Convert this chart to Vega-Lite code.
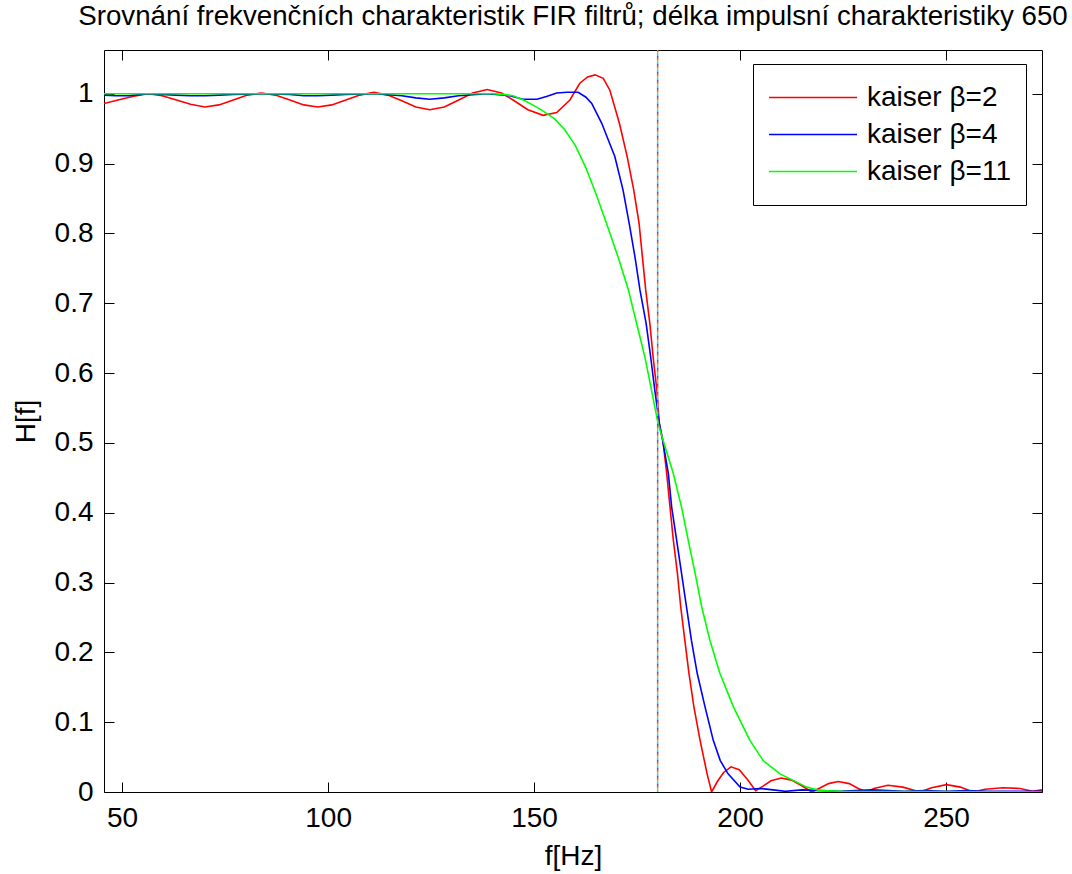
{
  "$schema": "https://vega.github.io/schema/vega-lite/v6.json",
  "width": 938,
  "height": 742,
  "autosize": {"type": "none"},
  "padding": {"left": 104, "top": 50, "right": 30, "bottom": 82},
  "background": "white",
  "title": {
    "text": "Srovnání frekvenčních charakteristik FIR filtrů; délka impulsní charakteristiky 650",
    "font": "Liberation Sans",
    "fontSize": 27.7,
    "fontWeight": "normal",
    "color": "black",
    "anchor": "middle",
    "baseline": "alphabetic",
    "offset": -3
  },
  "config": {
    "view": {"stroke": null},
    "axis": {
      "labelFont": "Liberation Sans",
      "labelFontSize": 28,
      "labelColor": "black",
      "titleFont": "Liberation Sans",
      "titleFontSize": 28,
      "titleFontWeight": "normal",
      "titleColor": "black",
      "domainColor": "black",
      "domainWidth": 1,
      "tickColor": "black",
      "tickWidth": 1,
      "tickSize": -10,
      "grid": false,
      "labelFlush": false,
      "labelOverlap": false
    },
    "legend": {
      "orient": "none",
      "legendX": 649,
      "legendY": 14,
      "title": null,
      "symbolType": "stroke",
      "symbolSize": 7744,
      "symbolStrokeWidth": 1.5,
      "labelFont": "Liberation Sans",
      "labelFontSize": 28,
      "labelColor": "black",
      "strokeColor": "black",
      "fillColor": "white",
      "padding": 15,
      "rowPadding": 0,
      "clipHeight": 37,
      "labelOffset": 9,
      "cornerRadius": 0
    }
  },
  "datasets": {
    "cutoff": [{"f": 180}],
    "curves": [
      {"f": 45.6, "H": 0.986, "series": "kaiser β=2"},
      {"f": 49.0, "H": 0.991, "series": "kaiser β=2"},
      {"f": 52.5, "H": 0.996, "series": "kaiser β=2"},
      {"f": 56.3, "H": 1.000, "series": "kaiser β=2"},
      {"f": 59.7, "H": 0.997, "series": "kaiser β=2"},
      {"f": 63.2, "H": 0.991, "series": "kaiser β=2"},
      {"f": 66.6, "H": 0.985, "series": "kaiser β=2"},
      {"f": 70.1, "H": 0.981, "series": "kaiser β=2"},
      {"f": 73.5, "H": 0.984, "series": "kaiser β=2"},
      {"f": 77.0, "H": 0.991, "series": "kaiser β=2"},
      {"f": 80.4, "H": 0.998, "series": "kaiser β=2"},
      {"f": 83.8, "H": 1.001, "series": "kaiser β=2"},
      {"f": 87.2, "H": 0.998, "series": "kaiser β=2"},
      {"f": 90.7, "H": 0.991, "series": "kaiser β=2"},
      {"f": 94.1, "H": 0.984, "series": "kaiser β=2"},
      {"f": 97.5, "H": 0.981, "series": "kaiser β=2"},
      {"f": 100.9, "H": 0.984, "series": "kaiser β=2"},
      {"f": 104.3, "H": 0.991, "series": "kaiser β=2"},
      {"f": 107.7, "H": 0.998, "series": "kaiser β=2"},
      {"f": 111.1, "H": 1.002, "series": "kaiser β=2"},
      {"f": 114.5, "H": 0.998, "series": "kaiser β=2"},
      {"f": 117.9, "H": 0.990, "series": "kaiser β=2"},
      {"f": 121.3, "H": 0.981, "series": "kaiser β=2"},
      {"f": 124.7, "H": 0.977, "series": "kaiser β=2"},
      {"f": 128.2, "H": 0.981, "series": "kaiser β=2"},
      {"f": 131.7, "H": 0.991, "series": "kaiser β=2"},
      {"f": 135.1, "H": 1.001, "series": "kaiser β=2"},
      {"f": 138.6, "H": 1.006, "series": "kaiser β=2"},
      {"f": 142.1, "H": 1.001, "series": "kaiser β=2"},
      {"f": 144.9, "H": 0.991, "series": "kaiser β=2"},
      {"f": 148.5, "H": 0.977, "series": "kaiser β=2"},
      {"f": 152.2, "H": 0.969, "series": "kaiser β=2"},
      {"f": 155.5, "H": 0.973, "series": "kaiser β=2"},
      {"f": 158.7, "H": 0.991, "series": "kaiser β=2"},
      {"f": 161.1, "H": 1.015, "series": "kaiser β=2"},
      {"f": 163.0, "H": 1.024, "series": "kaiser β=2"},
      {"f": 164.8, "H": 1.027, "series": "kaiser β=2"},
      {"f": 166.8, "H": 1.022, "series": "kaiser β=2"},
      {"f": 168.4, "H": 1.005, "series": "kaiser β=2"},
      {"f": 170.7, "H": 0.958, "series": "kaiser β=2"},
      {"f": 172.6, "H": 0.910, "series": "kaiser β=2"},
      {"f": 174.2, "H": 0.862, "series": "kaiser β=2"},
      {"f": 175.5, "H": 0.814, "series": "kaiser β=2"},
      {"f": 176.3, "H": 0.766, "series": "kaiser β=2"},
      {"f": 177.1, "H": 0.719, "series": "kaiser β=2"},
      {"f": 178.1, "H": 0.671, "series": "kaiser β=2"},
      {"f": 178.9, "H": 0.623, "series": "kaiser β=2"},
      {"f": 179.8, "H": 0.576, "series": "kaiser β=2"},
      {"f": 180.4, "H": 0.528, "series": "kaiser β=2"},
      {"f": 181.3, "H": 0.502, "series": "kaiser β=2"},
      {"f": 182.2, "H": 0.456, "series": "kaiser β=2"},
      {"f": 183.0, "H": 0.408, "series": "kaiser β=2"},
      {"f": 183.8, "H": 0.361, "series": "kaiser β=2"},
      {"f": 184.8, "H": 0.313, "series": "kaiser β=2"},
      {"f": 185.6, "H": 0.265, "series": "kaiser β=2"},
      {"f": 186.6, "H": 0.217, "series": "kaiser β=2"},
      {"f": 187.6, "H": 0.170, "series": "kaiser β=2"},
      {"f": 188.8, "H": 0.122, "series": "kaiser β=2"},
      {"f": 190.3, "H": 0.074, "series": "kaiser β=2"},
      {"f": 192.0, "H": 0.026, "series": "kaiser β=2"},
      {"f": 193.1, "H": 0.000, "series": "kaiser β=2"},
      {"f": 194.5, "H": 0.015, "series": "kaiser β=2"},
      {"f": 196.0, "H": 0.028, "series": "kaiser β=2"},
      {"f": 197.8, "H": 0.036, "series": "kaiser β=2"},
      {"f": 199.8, "H": 0.032, "series": "kaiser β=2"},
      {"f": 201.8, "H": 0.018, "series": "kaiser β=2"},
      {"f": 203.8, "H": 0.002, "series": "kaiser β=2"},
      {"f": 205.5, "H": 0.008, "series": "kaiser β=2"},
      {"f": 207.5, "H": 0.016, "series": "kaiser β=2"},
      {"f": 210.0, "H": 0.020, "series": "kaiser β=2"},
      {"f": 212.5, "H": 0.017, "series": "kaiser β=2"},
      {"f": 215.0, "H": 0.009, "series": "kaiser β=2"},
      {"f": 217.4, "H": 0.000, "series": "kaiser β=2"},
      {"f": 219.5, "H": 0.006, "series": "kaiser β=2"},
      {"f": 221.5, "H": 0.012, "series": "kaiser β=2"},
      {"f": 223.8, "H": 0.015, "series": "kaiser β=2"},
      {"f": 226.5, "H": 0.012, "series": "kaiser β=2"},
      {"f": 228.7, "H": 0.005, "series": "kaiser β=2"},
      {"f": 230.7, "H": 0.000, "series": "kaiser β=2"},
      {"f": 232.5, "H": 0.005, "series": "kaiser β=2"},
      {"f": 235.9, "H": 0.0096, "series": "kaiser β=2"},
      {"f": 239.5, "H": 0.007, "series": "kaiser β=2"},
      {"f": 243.7, "H": 0.000, "series": "kaiser β=2"},
      {"f": 246.5, "H": 0.006, "series": "kaiser β=2"},
      {"f": 250.1, "H": 0.0106, "series": "kaiser β=2"},
      {"f": 253.5, "H": 0.007, "series": "kaiser β=2"},
      {"f": 256.5, "H": 0.000, "series": "kaiser β=2"},
      {"f": 259.5, "H": 0.004, "series": "kaiser β=2"},
      {"f": 263.8, "H": 0.006, "series": "kaiser β=2"},
      {"f": 268.0, "H": 0.005, "series": "kaiser β=2"},
      {"f": 271.0, "H": 0.001, "series": "kaiser β=2"},
      {"f": 273.3, "H": 0.003, "series": "kaiser β=2"},

      {"f": 45.6, "H": 0.998, "series": "kaiser β=4"},
      {"f": 48.5, "H": 0.997, "series": "kaiser β=4"},
      {"f": 51.5, "H": 0.997, "series": "kaiser β=4"},
      {"f": 56.3, "H": 1.000, "series": "kaiser β=4"},
      {"f": 63.0, "H": 0.998, "series": "kaiser β=4"},
      {"f": 66.6, "H": 0.997, "series": "kaiser β=4"},
      {"f": 70.1, "H": 0.997, "series": "kaiser β=4"},
      {"f": 73.5, "H": 0.998, "series": "kaiser β=4"},
      {"f": 77.0, "H": 0.999, "series": "kaiser β=4"},
      {"f": 83.8, "H": 1.000, "series": "kaiser β=4"},
      {"f": 90.7, "H": 0.999, "series": "kaiser β=4"},
      {"f": 94.1, "H": 0.997, "series": "kaiser β=4"},
      {"f": 97.5, "H": 0.997, "series": "kaiser β=4"},
      {"f": 100.9, "H": 0.998, "series": "kaiser β=4"},
      {"f": 104.3, "H": 0.999, "series": "kaiser β=4"},
      {"f": 111.1, "H": 1.000, "series": "kaiser β=4"},
      {"f": 117.9, "H": 0.997, "series": "kaiser β=4"},
      {"f": 121.3, "H": 0.994, "series": "kaiser β=4"},
      {"f": 124.7, "H": 0.992, "series": "kaiser β=4"},
      {"f": 128.2, "H": 0.994, "series": "kaiser β=4"},
      {"f": 131.7, "H": 0.997, "series": "kaiser β=4"},
      {"f": 138.6, "H": 1.000, "series": "kaiser β=4"},
      {"f": 144.1, "H": 0.997, "series": "kaiser β=4"},
      {"f": 147.3, "H": 0.992, "series": "kaiser β=4"},
      {"f": 150.7, "H": 0.992, "series": "kaiser β=4"},
      {"f": 153.0, "H": 0.996, "series": "kaiser β=4"},
      {"f": 155.5, "H": 1.001, "series": "kaiser β=4"},
      {"f": 158.0, "H": 1.002, "series": "kaiser β=4"},
      {"f": 160.7, "H": 1.002, "series": "kaiser β=4"},
      {"f": 162.6, "H": 0.995, "series": "kaiser β=4"},
      {"f": 164.0, "H": 0.986, "series": "kaiser β=4"},
      {"f": 166.4, "H": 0.958, "series": "kaiser β=4"},
      {"f": 169.6, "H": 0.910, "series": "kaiser β=4"},
      {"f": 171.6, "H": 0.862, "series": "kaiser β=4"},
      {"f": 173.1, "H": 0.814, "series": "kaiser β=4"},
      {"f": 174.5, "H": 0.766, "series": "kaiser β=4"},
      {"f": 175.7, "H": 0.719, "series": "kaiser β=4"},
      {"f": 177.2, "H": 0.671, "series": "kaiser β=4"},
      {"f": 178.3, "H": 0.623, "series": "kaiser β=4"},
      {"f": 179.3, "H": 0.576, "series": "kaiser β=4"},
      {"f": 180.4, "H": 0.528, "series": "kaiser β=4"},
      {"f": 181.2, "H": 0.504, "series": "kaiser β=4"},
      {"f": 182.6, "H": 0.456, "series": "kaiser β=4"},
      {"f": 183.4, "H": 0.408, "series": "kaiser β=4"},
      {"f": 184.6, "H": 0.361, "series": "kaiser β=4"},
      {"f": 185.8, "H": 0.313, "series": "kaiser β=4"},
      {"f": 187.0, "H": 0.265, "series": "kaiser β=4"},
      {"f": 188.2, "H": 0.217, "series": "kaiser β=4"},
      {"f": 189.6, "H": 0.170, "series": "kaiser β=4"},
      {"f": 191.5, "H": 0.122, "series": "kaiser β=4"},
      {"f": 193.5, "H": 0.074, "series": "kaiser β=4"},
      {"f": 195.2, "H": 0.045, "series": "kaiser β=4"},
      {"f": 197.1, "H": 0.026, "series": "kaiser β=4"},
      {"f": 200.0, "H": 0.007, "series": "kaiser β=4"},
      {"f": 202.0, "H": 0.004, "series": "kaiser β=4"},
      {"f": 205.0, "H": 0.005, "series": "kaiser β=4"},
      {"f": 208.0, "H": 0.003, "series": "kaiser β=4"},
      {"f": 211.0, "H": 0.001, "series": "kaiser β=4"},
      {"f": 215.0, "H": 0.003, "series": "kaiser β=4"},
      {"f": 220.0, "H": 0.002, "series": "kaiser β=4"},
      {"f": 224.0, "H": 0.001, "series": "kaiser β=4"},
      {"f": 228.0, "H": 0.002, "series": "kaiser β=4"},
      {"f": 232.0, "H": 0.003, "series": "kaiser β=4"},
      {"f": 236.0, "H": 0.002, "series": "kaiser β=4"},
      {"f": 240.0, "H": 0.001, "series": "kaiser β=4"},
      {"f": 245.0, "H": 0.002, "series": "kaiser β=4"},
      {"f": 250.0, "H": 0.001, "series": "kaiser β=4"},
      {"f": 255.0, "H": 0.002, "series": "kaiser β=4"},
      {"f": 260.0, "H": 0.001, "series": "kaiser β=4"},
      {"f": 265.0, "H": 0.001, "series": "kaiser β=4"},
      {"f": 273.3, "H": 0.001, "series": "kaiser β=4"},

      {"f": 45.6, "H": 1.000, "series": "kaiser β=11"},
      {"f": 100.0, "H": 1.000, "series": "kaiser β=11"},
      {"f": 140.0, "H": 1.000, "series": "kaiser β=11"},
      {"f": 142.5, "H": 0.999, "series": "kaiser β=11"},
      {"f": 144.9, "H": 0.997, "series": "kaiser β=11"},
      {"f": 147.4, "H": 0.991, "series": "kaiser β=11"},
      {"f": 150.0, "H": 0.983, "series": "kaiser β=11"},
      {"f": 152.5, "H": 0.974, "series": "kaiser β=11"},
      {"f": 155.0, "H": 0.964, "series": "kaiser β=11"},
      {"f": 157.5, "H": 0.948, "series": "kaiser β=11"},
      {"f": 160.0, "H": 0.926, "series": "kaiser β=11"},
      {"f": 162.5, "H": 0.895, "series": "kaiser β=11"},
      {"f": 165.0, "H": 0.857, "series": "kaiser β=11"},
      {"f": 167.6, "H": 0.814, "series": "kaiser β=11"},
      {"f": 170.4, "H": 0.766, "series": "kaiser β=11"},
      {"f": 172.9, "H": 0.719, "series": "kaiser β=11"},
      {"f": 174.9, "H": 0.671, "series": "kaiser β=11"},
      {"f": 176.9, "H": 0.623, "series": "kaiser β=11"},
      {"f": 178.5, "H": 0.576, "series": "kaiser β=11"},
      {"f": 180.1, "H": 0.528, "series": "kaiser β=11"},
      {"f": 181.3, "H": 0.504, "series": "kaiser β=11"},
      {"f": 183.8, "H": 0.456, "series": "kaiser β=11"},
      {"f": 185.8, "H": 0.408, "series": "kaiser β=11"},
      {"f": 187.4, "H": 0.361, "series": "kaiser β=11"},
      {"f": 189.1, "H": 0.313, "series": "kaiser β=11"},
      {"f": 190.7, "H": 0.265, "series": "kaiser β=11"},
      {"f": 192.7, "H": 0.217, "series": "kaiser β=11"},
      {"f": 195.1, "H": 0.170, "series": "kaiser β=11"},
      {"f": 198.4, "H": 0.122, "series": "kaiser β=11"},
      {"f": 202.4, "H": 0.074, "series": "kaiser β=11"},
      {"f": 205.6, "H": 0.045, "series": "kaiser β=11"},
      {"f": 209.7, "H": 0.026, "series": "kaiser β=11"},
      {"f": 216.2, "H": 0.007, "series": "kaiser β=11"},
      {"f": 219.4, "H": 0.002, "series": "kaiser β=11"},
      {"f": 225.0, "H": 0.001, "series": "kaiser β=11"},
      {"f": 273.3, "H": 0.000, "series": "kaiser β=11"}
    ]
  },
  "resolve": {"axis": {"x": "independent", "y": "independent"}},
  "layer": [
    {
      "data": {"name": "curves"},
      "mark": {"type": "line", "strokeOpacity": 0, "clip": true},
      "encoding": {
        "x": {"field": "f", "type": "quantitative", "scale": {"domain": [45.6, 273.3], "nice": false, "zero": false},
              "axis": {"orient": "top", "labels": false, "title": null, "values": [50, 100, 150, 200, 250]}},
        "y": {"field": "H", "type": "quantitative", "scale": {"domain": [0, 1.0626], "nice": false, "zero": false},
              "axis": {"orient": "right", "labels": false, "title": null, "values": [0, 0.1, 0.2, 0.3, 0.4, 0.5, 0.6, 0.7, 0.8, 0.9, 1]}}
      }
    },
    {
      "data": {"name": "curves"},
      "mark": {"type": "line", "strokeWidth": 1.6, "clip": true, "interpolate": "linear"},
      "encoding": {
        "x": {"field": "f", "type": "quantitative",
              "axis": {"orient": "bottom", "title": "f[Hz]", "values": [50, 100, 150, 200, 250], "labelPadding": 22, "titlePadding": 10}},
        "y": {"field": "H", "type": "quantitative",
              "axis": {"orient": "left", "title": "H[f]", "values": [0, 0.1, 0.2, 0.3, 0.4, 0.5, 0.6, 0.7, 0.8, 0.9, 1], "format": ".1~f", "labelPadding": 21, "titlePadding": 14}},
        "color": {"field": "series", "type": "nominal",
                  "scale": {"domain": ["kaiser β=2", "kaiser β=4", "kaiser β=11"], "range": ["#ff0000", "#0000ff", "#00ff00"]},
                  "legend": {}}
      }
    },
    {
      "data": {"name": "cutoff"},
      "mark": {"type": "rule", "color": "#ff5050", "strokeWidth": 1.5, "strokeDash": [2, 6], "strokeDashOffset": 0},
      "encoding": {"x": {"field": "f", "type": "quantitative", "axis": null}}
    },
    {
      "data": {"name": "cutoff"},
      "mark": {"type": "rule", "color": "#5050ff", "strokeWidth": 1.5, "strokeDash": [2, 6], "strokeDashOffset": 2},
      "encoding": {"x": {"field": "f", "type": "quantitative", "axis": null}}
    },
    {
      "data": {"name": "cutoff"},
      "mark": {"type": "rule", "color": "#40c8c8", "strokeWidth": 1.5, "strokeDash": [2, 6], "strokeDashOffset": 4},
      "encoding": {"x": {"field": "f", "type": "quantitative", "axis": null}}
    },
    {
      "data": {"name": "cutoff"},
      "mark": {"type": "rule", "color": "#b8c040", "strokeWidth": 1.5, "strokeDash": [2, 6], "strokeDashOffset": 6},
      "encoding": {"x": {"field": "f", "type": "quantitative", "axis": null}}
    }
  ]
}
